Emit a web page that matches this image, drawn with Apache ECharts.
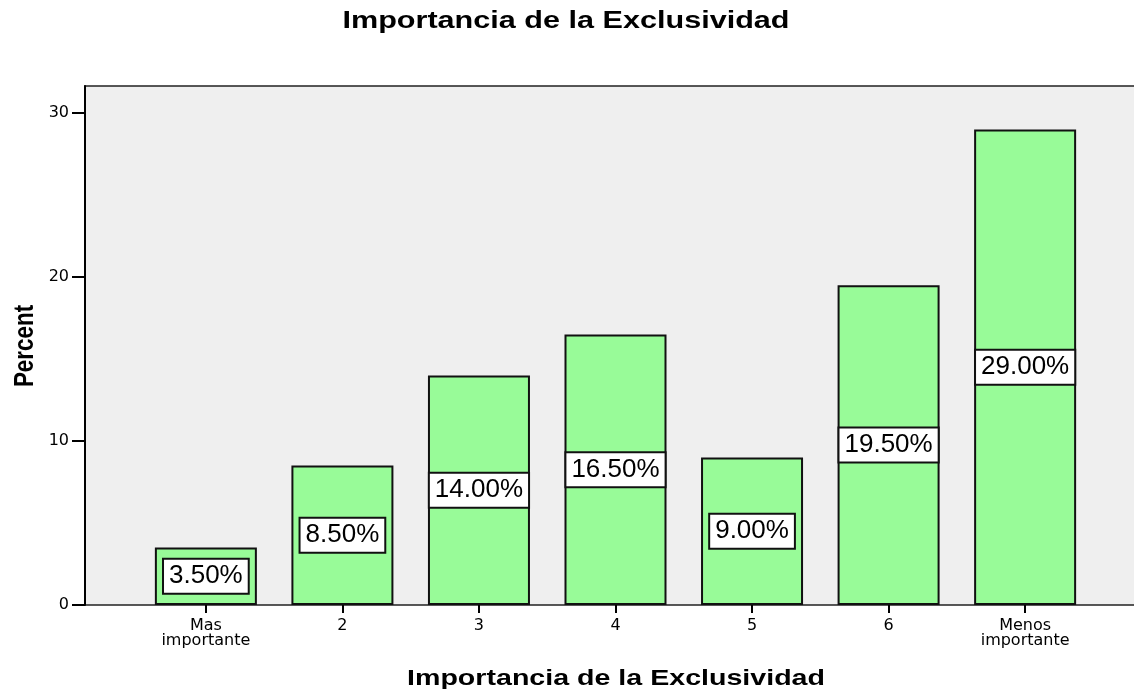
<!DOCTYPE html>
<html>
<head>
    <meta charset="utf-8">
    <title>Importancia de la Exclusividad</title>
    <script src="https://cdn.jsdelivr.net/npm/echarts@6/dist/echarts.min.js"></script>
    <style>
        html, body { margin: 0; padding: 0; background: #fff; }
    </style>
</head>
<body>
<div id="main" style="width: 1134px;height:689px;"></div>
<script type="text/javascript">
    // categories and values
    var categories = ['Mas\nimportante', '2', '3', '4', '5', '6', 'Menos\nimportante'];
    var percents = [3.5, 8.5, 14.0, 16.5, 9.0, 19.5, 29.0];
    var yTicks = [0, 10, 20, 30];

    var chartTitle = 'Importancia de la Exclusividad';
    var xName = 'Importancia de la Exclusividad';
    var yName = 'Percent';

    var chartDom = document.getElementById('main');
    var myChart = echarts.init(chartDom);
    var font = 'Liberation Sans, Arial, sans-serif';
    var tickFont = 'DejaVu Sans, sans-serif';

    var option = {
        animation: false,
        // title and axis names: the original type is stretched wide, so draw them as scaled text
        graphic: [
            { type: 'text', x: 566, y: 22, scaleX: 1.33,
              style: { text: chartTitle, font: 'bold 23px ' + font, fill: '#000', textAlign: 'center', textVerticalAlign: 'middle' } },
            { type: 'text', x: 616, y: 679, scaleX: 1.33,
              style: { text: xName, font: 'bold 21.5px ' + font, fill: '#000', textAlign: 'center', textVerticalAlign: 'middle' } },
            { type: 'text', x: 25, y: 346, rotation: Math.PI / 2, scaleX: 0.8,
              style: { text: yName, font: 'bold 28px ' + font, fill: '#000', textAlign: 'center', textVerticalAlign: 'middle' } }
        ],
        grid: [
            // plot background (grey panel)
            { left: 85, top: 86, bottom: 84, right: -20, show: true, outerBoundsMode: 'none',
              backgroundColor: '#efefef', borderColor: '#222', borderWidth: 1.5 },
            // bars
            { left: 137.6, top: 86, bottom: 84, right: 40.6, outerBoundsMode: 'none' }
        ],
        xAxis: [
            { gridIndex: 0, type: 'value', show: false },
            {
                gridIndex: 1,
                type: 'category',
                data: categories,
                axisLine: { show: false },
                axisTick: { show: true, alignWithLabel: true, length: 8, lineStyle: { color: '#000', width: 2 } },
                axisLabel: { fontFamily: tickFont, fontSize: 16, color: '#000', lineHeight: 15, margin: 13 }
            }
        ],
        yAxis: [
            {
                gridIndex: 0,
                type: 'value',
                min: 0,
                max: 31.65,
                interval: 10,
                axisLine: { show: true, onZero: false, lineStyle: { color: '#000', width: 2 } },
                axisTick: { show: true, length: 13, customValues: yTicks, lineStyle: { color: '#000', width: 2 } },
                axisLabel: { fontFamily: tickFont, fontSize: 16, color: '#000', margin: 16, customValues: yTicks },
                splitLine: { show: false }
            },
            { gridIndex: 1, type: 'value', min: 0, max: 31.65, show: false, splitLine: { show: false } }
        ],
        series: [
            {
                type: 'bar',
                xAxisIndex: 1,
                yAxisIndex: 1,
                data: percents,
                barWidth: 102,
                itemStyle: { color: '#98fb98', borderColor: '#111', borderWidth: 2 },
                label: {
                    show: true,
                    position: 'inside',
                    formatter: function (p) { return p.value.toFixed(2) + '%'; },
                    fontFamily: font,
                    fontSize: 26,
                    color: '#000',
                    backgroundColor: '#fff',
                    borderColor: '#111',
                    borderWidth: 2,
                    padding: [4, 5, 3, 5]
                }
            }
        ]
    };

    if (option && typeof option === 'object') {
        myChart.setOption(option);
    }
</script>
</body>
</html>
